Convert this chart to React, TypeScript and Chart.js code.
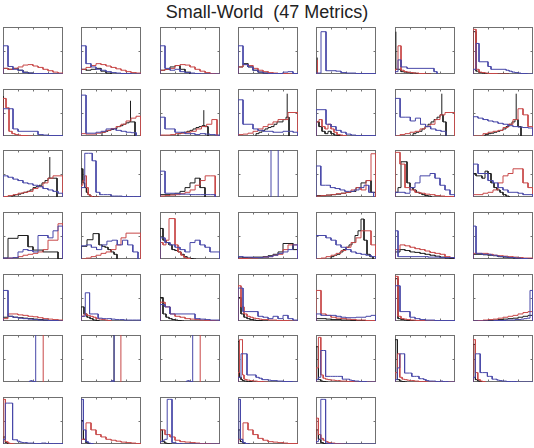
import React, { useEffect, useRef } from "react";
import { Chart, registerables } from "chart.js";

Chart.register(...registerables);

const chartTitle = "Small-World  (47 Metrics)";

// Histogram outlines per metric (heights as fraction of panel height), bins spread evenly over [from, to]
const blueFrom = [0,0,0,0,0,0,0, 0,0,0,0,0,0,0, 0,0,0,0,0,0,0, 0,0,0,0,0,0,0, 0,0,0,0,0,0,0, 0.44,0.5,0.44,0,0,0,0, 0,0,0,0,0];
const blueTo = [1,1,1,1,1,0.7,1, 1,0.92,1,1,1,0.85,1, 1,1,0.92,0,0.96,1,1, 1,0.95,1,1,1,1,1, 1,1,1,1,1,1,1, 0.54,0.54,0.54,1,1,1,1, 1,0.2,1,0.2,1];
const blueBins: number[][] = [
  [0.6,0.16,0.1,0.08,0.03,0.02,0.01,0.01,0.01,0.005,0,0],
  [0.6,0.22,0.15,0.1,0.08,0.05,0.03,0.02,0.01,0.01,0,0],
  [0.6,0.12,0.08,0.1,0.05,0.03,0.02,0.01,0,0,0,0],
  [0.6,0.2,0.15,0.08,0.04,0.02,0.01,0.01,0.01,0.04,0.05,0.01],
  [0.02,0.9,0.07,0.07,0.06,0.03,0.02,0.02,0.01,0.01,0.01,0.01],
  [0.05,0.3,0.15,0.15,0.12,0.12,0.12,0.12,0.12,0.12,0.12,0.12,0.12,0.05],
  [0.1,0.65,0.26,0.26,0.26,0.16,0.1,0.1,0.1,0.1,0.1,0.08,0.06,0.04,0.03,0.02,0.01,0.01,0,0],
  [0.58,0.58,0.15,0.1,0.1,0.1,0.1,0.03,0.02,0.01,0.01,0.01],
  [0.87,0.06,0.06,0.08,0.1,0.15,0.15,0.12,0.1,0.08,0.07],
  [0.4,0.15,0.15,0.08,0.08,0.05,0.05,0.03,0.05,0.04,0.03,0.02],
  [0.77,0.25,0.25,0.15,0.12,0.1,0.1,0.08,0.08,0.1,0.1,0.08],
  [0.56,0.56,0.25,0.2,0.12,0.08,0.04,0.02,0.01,0.01,0.01,0.01],
  [0.8,0.4,0.4,0.32,0.38,0.25,0.2,0.15,0.12,0.1],
  [0.41,0.38,0.35,0.32,0.3,0.27,0.25,0.22,0.2,0.19,0.18,0.17],
  [0.45,0.42,0.38,0.35,0.3,0.28,0.25,0.22,0.18,0.15,0.12,0.08],
  [0.2,0.93,0.93,0.77,0.1,0.05,0.05,0.05,0.02,0.02,0.02,0.01,0.01,0.01,0.01,0.01],
  [0.55,0.08,0.08,0.07,0.06,0.06,0.05,0.05,0.05,0.05,0.05],
  [],
  [0.66,0.25,0.25,0.2,0.18,0.15,0.12,0.12,0.15,0.2,0.25,0.1],
  [0.1,0.1,0.08,0.2,0.3,0.45,0.45,0.5,0.4,0.25,0.15,0.05],
  [0.7,0.5,0.5,0.35,0.3,0.2,0.15,0.1,0.1,0.08,0.05,0.05],
  [0.02,0.02,0.03,0.15,0.2,0.18,0.15,0.5,0.5,0.45,0.6,0.7],
  [0.28,0.3,0.25,0.2,0.3,0.38,0.4,0.3,0.4,0.3,0.15],
  [0.45,0.35,0.3,0.25,0.2,0.15,0.35,0.4,0.3,0.25,0.15,0.15],
  [0.05,0.04,0.04,0.03,0.03,0.04,0.05,0.08,0.12,0.15,0.2,0.3],
  [0.5,0.5,0.45,0.4,0.3,0.25,0.2,0.15,0.12,0.1,0.08,0.05],
  [0.6,0.05,0.05,0.05,0.05,0.05,0.05,0.05,0.05,0.05,0.05,0.04,0.04,0.04,0.04,0.03,0.03,0.03,0.03,0.03],
  [0.7,0.12,0.12,0.1,0.1,0.1,0.08,0.08,0.06,0.05,0.05,0.04,0.03,0.03,0.02,0.02,0.01,0.01,0,0],
  [0.65,0.1,0.08,0.06,0.05,0.04,0.03,0.02,0.02,0.01,0.01,0],
  [0.1,0.6,0.15,0.15,0.06,0.05,0.05,0.04,0.03,0.03,0.02,0.02,0.02,0.02],
  [0.35,0.3,0.15,0.15,0.15,0.15,0.15,0.05,0.04,0.03,0.02,0.02],
  [0.7,0.2,0.2,0.2,0.1,0.08,0.05,0.1,0.05,0.12,0.05,0.02],
  [0.15,0.12,0.12,0.12,0.1,0.08,0.07,0.07,0.08,0.08,0.1,0.12],
  [0.75,0.2,0.2,0.08,0.05,0.03,0.02,0.02,0.01,0.01,0.01,0.01],
  [0,0,0,0,0,0,0,0.01,0.01,0.01,0.01,0.02,0.02,0.02,0.03,0.03,0.04,0.05,0.06,0.65],
  [0.02,0.03,0.02,0.01,0.01],
  [0.02,0.03],
  [0.02,0.03,0.02,0.01,0.01],
  [0.1,0.6,0.6,0.15,0.15,0.15,0.1,0.08,0.05,0.05,0.04,0.03,0.03,0.02,0.02,0.01,0.01,0.01,0,0],
  [0.05,0.1,0.67,0.67,0.12,0.12,0.12,0.12,0.12,0.12,0.12,0.06,0.06,0.06,0.04,0.03,0.02,0.02,0.01,0.01,0.01,0,0,0,0],
  [0.05,0.3,0.6,0.6,0.19,0.19,0.19,0.12,0.12,0.12,0.07,0.07,0.05,0.03,0.02,0.02,0.02,0.01,0.01,0.02,0.01,0.01,0,0,0],
  [0.1,0.6,0.6,0.2,0.2,0.2,0.12,0.12,0.06,0.06,0.04,0.03,0.02,0.02,0.01,0.01,0.01,0.01,0,0,0,0,0,0,0],
  [0.1,0.87,0.87,0.87,0.09,0.09,0.06,0.04,0.03,0.03,0.02,0.02,0.02,0.01,0.01,0.01,0.02,0.02,0.01,0.01,0.01,0.01,0.01,0.01,0.01],
  [0.95,0.3,0.05,0.02,0.01],
  [0.05,0.08,0.1,0.95,0.95,0.03,0.02,0.01,0.01,0,0,0,0,0,0,0,0,0,0,0,0,0,0,0,0],
  [0.95,0.1,0.03,0.01,0],
  [0.05,0.1,0.95,0.95,0.02,0.01,0.01,0,0,0,0,0,0,0,0,0,0,0,0,0,0,0,0,0,0],
];

const redFrom = [0,0,0,0,0,0,0, 0,0,0,0,0,0,0, 0,0,0,0,0,0,0, 0,0,0,0,0,0,0, 0,0,0,0,0,0,0, 0,0,0,0,0,0,0, 0,0,0,0,0];
const redTo = [1,1,1,1,0,0.6,0.6, 0.5,1,0.95,1,0.5,1,1, 1,0.3,0.92,0,1,1,1, 1,1,0.5,1,1,1,1, 1,0.5,1,1,1,1,1, 0,0,0,0.5,1,1,0.2, 0.2,1,1,1,0.48];
const redBins: number[][] = [
  [0.12,0.1,0.12,0.15,0.19,0.2,0.17,0.14,0.1,0.07,0.04,0.02],
  [0.1,0.14,0.18,0.22,0.2,0.17,0.14,0.11,0.08,0.05,0.03,0.02],
  [0.08,0.1,0.12,0.18,0.2,0.19,0.15,0.1,0.06,0.03,0.01,0],
  [0.15,0.2,0.18,0.12,0.08,0.05,0.03,0.02,0.01,0.01,0,0],
  [],
  [0.1,0.6,0.08,0.05,0.04,0.03,0.02,0.02,0.01,0.01,0,0],
  [0.95,0.1,0.04,0.03,0.02,0.01,0.01,0.01,0,0,0,0],
  [0.8,0.6,0.1,0.05,0.03,0.02,0.01,0.01,0,0],
  [0.05,0.04,0.04,0.06,0.08,0.12,0.16,0.2,0.25,0.32,0.38,0.42],
  [0.02,0.02,0.03,0.05,0.06,0.08,0.1,0.15,0.2,0.25,0.35],
  [0.03,0.04,0.06,0.1,0.15,0.2,0.25,0.3,0.35,0.35,0.5,0.5],
  [0.3,0.35,0.2,0.15,0.25,0.15,0.08,0.03,0.02,0.01],
  [0,0.03,0.05,0.08,0.1,0.15,0.2,0.25,0.35,0.45,0.5,0.5],
  [0,0,0.05,0.08,0.1,0.12,0.18,0.25,0.35,0.58,0.45,0.2],
  [0.01,0.03,0.05,0.08,0.1,0.12,0.18,0.22,0.3,0.4,0.45,0.45],
  [0.25,0.35,0.45,0.2,0.05,0.02,0,0,0,0],
  [0.02,0.03,0.04,0.05,0.07,0.1,0.15,0.25,0.35,0.45,0.45],
  [],
  [0.02,0.03,0.04,0.05,0.07,0.08,0.1,0.15,0.2,0.15,0.35,0.92],
  [0.95,0.7,0.2,0.15,0.1,0.08,0.06,0.05,0.03,0.02,0.01,0.01],
  [0.05,0.05,0.08,0.1,0.15,0.3,0.45,0.5,0.6,0.6,0.3,0.2],
  [0,0.02,0.03,0.05,0.08,0.1,0.12,0.15,0.2,0.4,0.4,0.75],
  [0,0.02,0.05,0.08,0.12,0.15,0.2,0.3,0.45,0.55,0.55,0.55],
  [0.35,0.3,0.4,0.86,0.86,0.3,0.15,0.08,0.03,0.01],
  [0.01,0.01,0.02,0.02,0.03,0.04,0.05,0.08,0.1,0.2,0.3,0.3],
  [0,0.02,0.05,0.08,0.12,0.18,0.25,0.35,0.45,0.6,0.6,0.3],
  [0.2,0.3,0.28,0.25,0.22,0.2,0.17,0.14,0.12,0.1,0.05,0.03],
  [0.12,0.12,0.12,0.1,0.08,0.07,0.06,0.05,0.04,0.03,0.02,0.02],
  [0.05,0.15,0.15,0.13,0.12,0.1,0.09,0.07,0.05,0.04,0.03,0.02],
  [0.1,0.15,0.12,0.1,0.08,0.05,0.04,0.03,0.02,0.01],
  [0.4,0.3,0.15,0.1,0.08,0.05,0.04,0.03,0.02,0.01,0.01,0],
  [0.75,0.3,0.15,0.1,0.08,0.06,0.05,0.04,0.03,0.03,0.02,0.02,0.02,0.01,0.01,0.01,0.01,0,0,0],
  [0.65,0.15,0.12,0.08,0.06,0.05,0.04,0.03,0.02,0.02,0.01,0.01],
  [0.95,0.1,0.05,0.04,0.03,0.02,0.02,0.01,0.01,0.01,0,0,0,0,0,0,0,0,0,0],
  [0,0.01,0.02,0.03,0.04,0.06,0.08,0.1,0.12,0.15,0.18,0.2],
  [],
  [],
  [],
  [0.2,0.9,0.9,0.15,0.06,0.05,0.04,0.04,0.03,0.03,0.02,0.02,0.02,0.01,0.01,0.01,0.01,0,0,0],
  [0.3,0.95,0.15,0.08,0.06,0.05,0.04,0.04,0.03,0.03,0.02,0.02,0.02,0.01,0.01,0.01,0,0,0,0,0,0,0,0,0],
  [0.2,0.6,0.1,0.06,0.05,0.04,0.03,0.03,0.02,0.02,0.01,0.01,0.01,0,0,0,0,0,0,0,0,0,0,0,0],
  [0.9,0.2,0.05,0.02,0.01],
  [0.95,0.05,0.02,0.01,0],
  [0.1,0.45,0.3,0.2,0.15,0.1,0.08,0.06,0.04,0.03,0.02,0.01],
  [0.3,0.2,0.15,0.08,0.05,0.04,0.03,0.02,0.01,0.01,0,0],
  [0.1,0.45,0.3,0.2,0.12,0.08,0.05,0.04,0.03,0.02,0.01,0.01],
  [0.55,0.2,0.12,0.08,0.05,0.03,0.02,0.02,0.01,0.01,0,0],
];

const blackFrom = [0,0,0,0,0,0,0, 0,0.35,0.3,0.3,0,0.3,0.2, 0.15,0,0,0,0,0,0, 0,0,0,0,0.25,0,0, 0,0,0,0,0,0,0, 0,0,0,0,0,0,0, 0,0,0,0,0];
const blackTo = [0.5,0.5,0.5,0.5,0,0.6,0.6, 0,0.9,0.8,0.85,0.5,0.85,0.8, 0.9,0.3,0.75,0,1,0.6,0.6, 1,0.6,0.6,1,0.95,1,1, 1,0.3,0.4,0.5,1,0.5,1, 0,0,0,0.3,0.2,0.2,0.2, 0.08,0.2,0.2,0.2,0.2];
const blackBins: number[][] = [
  [0.12,0.1,0.12,0.08,0.04,0.02],
  [0.1,0.08,0.1,0.12,0.06,0.02],
  [0.08,0.1,0.15,0.18,0.1,0.04],
  [0.15,0.22,0.15,0.08,0.04,0.02],
  [],
  [0.1,0.1,0.05,0.04,0.03,0.02,0.02,0.01,0.01,0,0,0],
  [0.9,0.06,0.03,0.02,0.01,0.01,0,0,0,0,0,0],
  [],
  [0.08,0.1,0.12,0.14,0.16,0.2,0.22,0.25,0.28,0.3,0.3],
  [0.05,0.07,0.08,0.1,0.12,0.15,0.18,0.2,0.22,0.2],
  [0.05,0.08,0.12,0.15,0.18,0.2,0.25,0.3,0.3,0.35,0.4],
  [0.3,0.2,0.1,0.05,0.1,0.05,0.02,0.01,0,0],
  [0.05,0.08,0.1,0.15,0.2,0.25,0.3,0.35,0.4,0.45,0.3],
  [0.03,0.05,0.06,0.08,0.1,0.12,0.15,0.2,0.25,0.3,0.35,0.2],
  [0.03,0.05,0.06,0.08,0.1,0.12,0.15,0.2,0.22,0.25,0.3,0.35,0.4,0.4,0.4],
  [0.6,0.3,0.2,0.1,0.05,0.02,0.01,0,0,0],
  [0.05,0.05,0.06,0.08,0.12,0.2,0.3,0.4,0.2],
  [],
  [0.03,0.03,0.04,0.05,0.06,0.08,0.1,0.12,0.2,0.3,0.35,0.1],
  [0.1,0.2,0.75,0.75,0.3,0.2,0.15,0.1,0.08,0.05,0.03,0.02],
  [0.5,0.45,0.45,0.4,0.55,0.5,0.3,0.2,0.15,0.1,0.05,0.02],
  [0.02,0.44,0.44,0.5,0.5,0.26,0.19,0.19,0.15,0.15,0.15,0],
  [0.27,0.27,0.41,0.41,0.54,0.54,0.3,0.27,0.25,0.2,0.15,0.1],
  [0.65,0.4,0.35,0.3,0.2,0.18,0.15,0.1,0.05,0.02,0.01,0],
  [0.04,0.03,0.03,0.04,0.04,0.05,0.07,0.1,0.15,0.33,0.33,0.2],
  [0.05,0.08,0.1,0.15,0.2,0.25,0.3,0.35,0.5,0.6,0.85,0.4,0.1,0.05],
  [0.15,0.2,0.18,0.15,0.14,0.12,0.1,0.08,0.06,0.04,0.02,0.01],
  [0.1,0.1,0.09,0.08,0.07,0.05,0.04,0.03,0.02,0.02,0.01,0.01],
  [0.08,0.1,0.08,0.07,0.06,0.05,0.04,0.03,0.02,0.01,0.01,0],
  [0.3,0.15,0.08,0.05,0.02,0.01],
  [0.5,0.15,0.08,0.05,0.03,0.02,0.01,0],
  [0.5,0.15,0.08,0.05,0.03,0.02,0.01,0.01,0,0],
  [0.05,0.05,0.04,0.03,0.03,0.02,0.02,0.01,0.01,0.01,0,0],
  [0.9,0.05,0.03,0.02,0.01,0.01,0,0,0,0],
  [0,0,0.01,0.01,0.02,0.03,0.04,0.05,0.06,0.08,0.1,0.12],
  [],
  [],
  [],
  [0.86,0.1,0.05,0.03,0.02,0.02,0.01,0.01,0.01,0,0,0],
  [0.75,0.05,0.02,0.01,0],
  [0.9,0.05,0.02,0.01,0],
  [0.8,0.05,0.02,0.01,0],
  [0.15,0.03],
  [0.5,0.1,0.03,0.01,0],
  [0.3,0.05,0.02,0.01,0],
  [0.3,0.05,0.02,0.01,0],
  [0.3,0.1,0.03,0.01,0],
];

// Single narrow spikes: [metric number (1-based), x position, height]
const blueSpikes: [number, number, number][] = [
  [18, 0.55, 1.05], [18, 0.67, 1.05],
  [36, 0.545, 1.05], [37, 0.552, 1.05], [38, 0.545, 1.05],
];
const redSpikes: [number, number, number][] = [
  [5, 0.025, 0.3],
  [36, 0.67, 1.05], [37, 0.665, 1.05], [38, 0.67, 1.05],
];
const blackSpikes: [number, number, number][] = [
  [5, 0.02, 0.35], [6, 0.015, 0.9], [8, 0.006, 0.85],
  [9, 0.825, 0.75], [10, 0.73, 0.55], [11, 0.82, 0.9],
  [13, 0.78, 0.9], [14, 0.72, 0.9], [15, 0.78, 0.85],
  [37, 0.55, 1.05],
];

const xTicks = [0.25, 0.5, 0.75];
const yTicks = [0.5];

const BLUE = "#4848a8";
const RED = "#c84848";
const BLACK = "#1e1e1e";
const FRAME = "#707070";

type Pt = { x: number; y: number };

function outline(from: number, to: number, bins: number[]): Pt[] {
  if (!bins.length) return [];
  const w = (to - from) / bins.length;
  const pts: Pt[] = [{ x: from, y: 0 }];
  bins.forEach((v, i) => {
    pts.push({ x: from + i * w, y: v });
    pts.push({ x: from + (i + 1) * w, y: v });
  });
  pts.push({ x: to, y: 0 });
  return pts;
}

function levelAt(from: number, to: number, bins: number[], x: number) {
  if (!bins.length || x < from || x >= to) return 0;
  const w = (to - from) / bins.length;
  return bins[Math.min(bins.length - 1, Math.floor((x - from) / w))];
}

const framePlugin = {
  id: "matlabFrame",
  beforeDatasetsDraw(chart: any) {
    const { ctx, chartArea: a, scales } = chart;
    ctx.save();
    ctx.strokeStyle = FRAME;
    ctx.lineWidth = 1;
    ctx.strokeRect(a.left + 0.5, a.top + 0.5, a.right - a.left - 1, a.bottom - a.top - 1);
    ctx.beginPath();
    for (const t of xTicks) {
      const px = Math.round(scales.x.getPixelForValue(t)) + 0.5;
      ctx.moveTo(px, a.top);
      ctx.lineTo(px, a.top + 2.5);
      ctx.moveTo(px, a.bottom);
      ctx.lineTo(px, a.bottom - 2.5);
    }
    for (const t of yTicks) {
      const py = Math.round(scales.y.getPixelForValue(t)) + 0.5;
      ctx.moveTo(a.left, py);
      ctx.lineTo(a.left + 2.5, py);
      ctx.moveTo(a.right, py);
      ctx.lineTo(a.right - 2.5, py);
    }
    ctx.stroke();
    ctx.restore();
  },
};

const PANEL_W = 60;
const PANEL_H = 47;

function Panel({ index }: { index: number }) {
  const ref = useRef<HTMLCanvasElement | null>(null);
  useEffect(() => {
    if (!ref.current) return;
    const groups = [
      { color: BLUE, from: blueFrom[index], to: blueTo[index], bins: blueBins[index], spikes: blueSpikes },
      { color: RED, from: redFrom[index], to: redTo[index], bins: redBins[index], spikes: redSpikes },
      { color: BLACK, from: blackFrom[index], to: blackTo[index], bins: blackBins[index], spikes: blackSpikes },
    ];
    const datasets: any[] = [];
    for (const g of groups) {
      const pts = outline(g.from, g.to, g.bins);
      if (pts.length) datasets.push({ data: pts, borderColor: g.color });
      for (const [m, x, h] of g.spikes) {
        if (m !== index + 1) continue;
        const base = levelAt(g.from, g.to, g.bins, x);
        datasets.push({ data: [{ x, y: base }, { x, y: h }], borderColor: g.color });
      }
    }
    const chart = new Chart(ref.current, {
      type: "line",
      data: {
        datasets: datasets.map((d) => ({
          ...d,
          borderWidth: 1,
          pointRadius: 0,
          tension: 0,
          fill: false,
        })),
      },
      options: {
        animation: false,
        responsive: false,
        events: [],
        layout: { padding: 1 },
        plugins: { legend: { display: false }, tooltip: { enabled: false }, title: { display: false } },
        scales: {
          x: { type: "linear", min: 0, max: 1, display: false },
          y: { type: "linear", min: 0, max: 1, display: false },
        },
      },
      plugins: [framePlugin],
    } as any);
    return () => chart.destroy();
  }, [index]);
  const col = index % 7;
  const row = Math.floor(index / 7);
  const left = Math.round(3 + col * 78.33) - 1;
  const top = Math.round(27 + row * 61.67) - 1;
  return (
    <canvas
      ref={ref}
      width={PANEL_W + 2}
      height={PANEL_H + 2}
      style={{ position: "absolute", left, top, width: PANEL_W + 2, height: PANEL_H + 2 }}
    />
  );
}

export default function App() {
  return (
    <div style={{ position: "fixed", left: 0, top: 0, width: 534, height: 448, background: "#fff", overflow: "hidden" }}>
      <div
        style={{
          position: "absolute",
          left: 0,
          top: 3,
          width: 534,
          textAlign: "center",
          fontFamily: "'Liberation Sans', Arial, sans-serif",
          fontSize: 18,
          lineHeight: "18px",
          color: "#222",
          whiteSpace: "pre",
        }}
      >
        {chartTitle}
      </div>
      {blueBins.map((_, i) => (
        <Panel key={i} index={i} />
      ))}
    </div>
  );
}
